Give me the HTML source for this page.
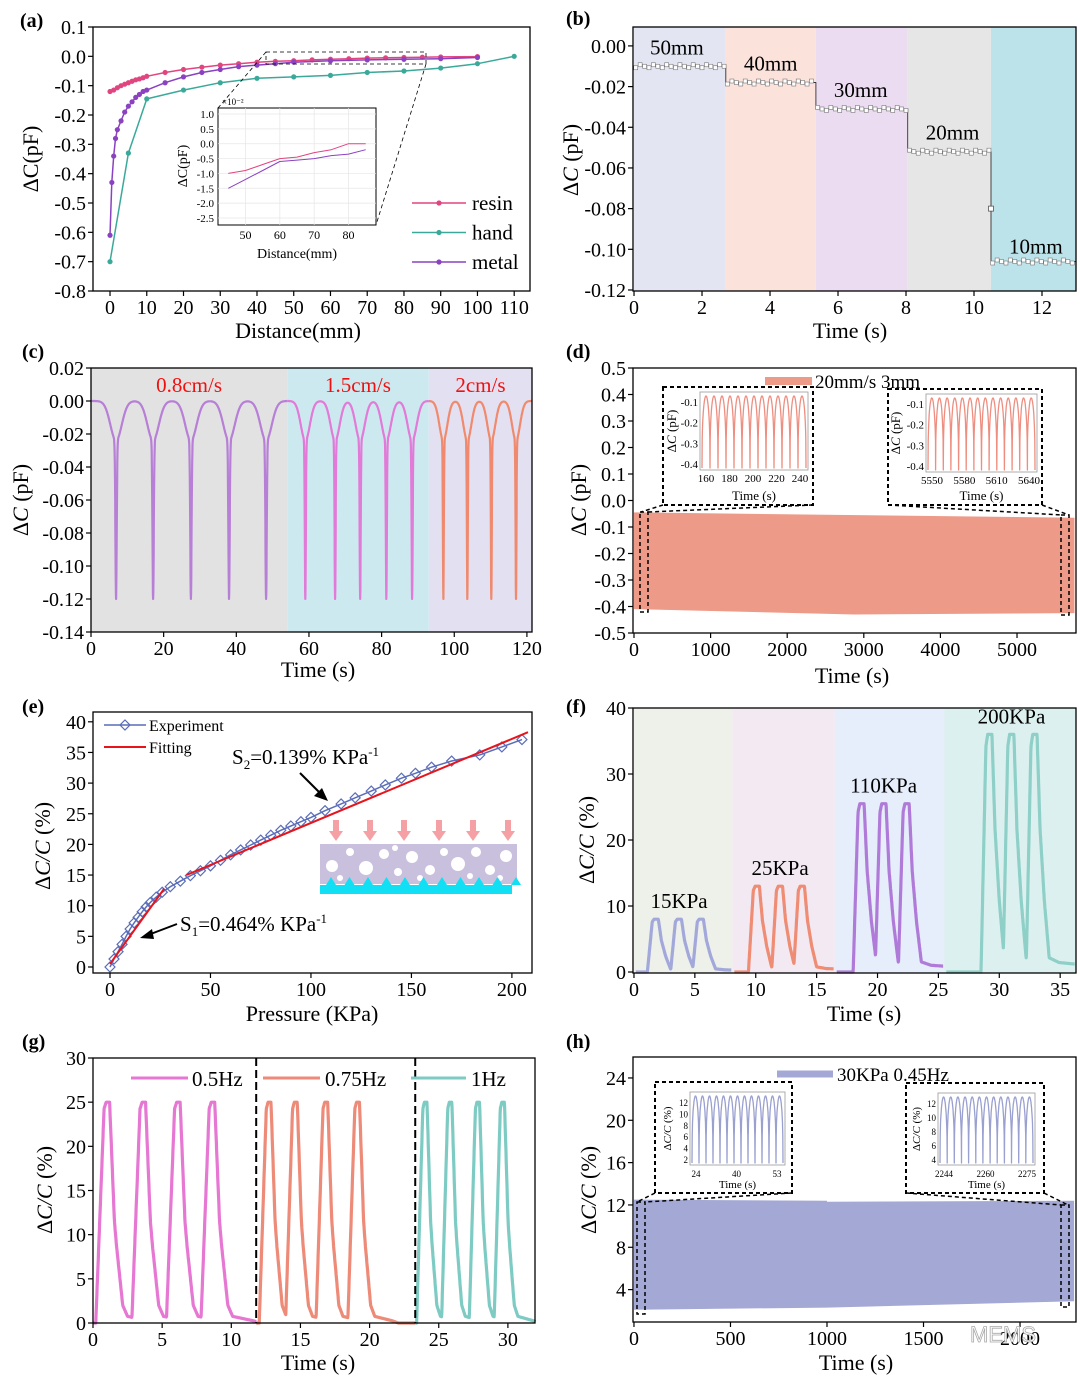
<!DOCTYPE html>
<html><head><meta charset="utf-8">
<style>
html,body{margin:0;padding:0;background:#fff;}
svg{display:block;font-family:"Liberation Serif",serif;}
</style></head>
<body>
<svg id="fig" width="1080" height="1379" viewBox="0 0 1080 1379" xmlns="http://www.w3.org/2000/svg"></svg>
<script>
// ---------- DATA ----------
// (a)
const aResinX=[0,1,2,3,4,5,6,7,8,9,10,15,20,25,30,35,40,45,50,55,60,65,70,75,80,85,90,100];
const aResinY=[-0.12,-0.115,-0.107,-0.1,-0.095,-0.09,-0.085,-0.08,-0.077,-0.073,-0.068,-0.055,-0.045,-0.037,-0.03,-0.025,-0.02,-0.017,-0.015,-0.012,-0.01,-0.008,-0.006,-0.005,-0.004,-0.003,-0.002,-0.001];
const aHandX=[0,5,10,20,30,40,50,60,70,80,90,100,110];
const aHandY=[-0.70,-0.33,-0.145,-0.115,-0.09,-0.075,-0.07,-0.065,-0.055,-0.05,-0.04,-0.025,0];
const aMetalX=[0,0.5,1,1.5,2,3,4,5,6,7,8,9,10,15,20,25,30,35,40,45,50,60,70,80,90,100];
const aMetalY=[-0.61,-0.43,-0.34,-0.28,-0.25,-0.22,-0.19,-0.17,-0.155,-0.14,-0.13,-0.12,-0.115,-0.09,-0.07,-0.055,-0.045,-0.035,-0.03,-0.025,-0.02,-0.015,-0.012,-0.01,-0.008,-0.004];
const aInsetX=[45,50,55,60,65,70,75,80,85];
const aInsetResin=[-1.0,-0.9,-0.7,-0.5,-0.45,-0.3,-0.2,0.0,0.0];
const aInsetMetal=[-1.5,-1.2,-0.9,-0.6,-0.55,-0.5,-0.4,-0.35,-0.2];
// (b)
const bLabels=["50mm","40mm","30mm","20mm","10mm"];
const bStarts=[0,2.7,5.35,8.05,10.5];
const bEnds=[2.7,5.35,8.05,10.5,13.0];
const bLevels=[-0.010,-0.018,-0.031,-0.052,-0.106];
// (c)
const cGroups=["0.8cm/s","1.5cm/s","2cm/s"];
const cGroupEnd=[54,93,122];
const cPeaks=[[6.9,17.1,27.5,38,48.2],[59,67.2,74.1,81.3,88.4],[97,103.6,110.2,117]];
const cDepth=[-0.12,-0.12,-0.12];
// (d)
const dTopStart=-0.045, dTopEnd=-0.065, dBotStart=-0.41, dBotEnd=-0.425, dEnd=5750;
// (e)
const eP=[0,2,4,6,8,10,12,14,16,18,20,23,26,30,35,40,45,50,55,60,65,70,75,80,85,90,95,100,107,115,122,130,137,145,152,160,170,184,195,205];
const eC=[0,1.3,2.5,3.7,5,6.2,7.2,8.1,9,9.8,10.5,11.4,12.2,13.1,14,14.9,15.7,16.5,17.4,18.3,19.1,19.9,20.7,21.5,22.3,23,23.7,24.4,25.5,26.6,27.6,28.7,29.7,30.8,31.6,32.6,33.6,34.6,35.9,37.1];
const eFit1P=[0,27], eFit1C=[0.5,12.8];
const eFit2P=[38,208], eFit2C=[15.0,38.3];
// (f)
const fLabels=["15KPa","25KPa","110KPa","200KPa"];
const fSegStart=[0,8.1,16.5,25.5];
const fSegEnd=[8.1,16.5,25.5,36.3];
const fPeaks=[[1.8,3.7,5.5],[10.1,12.0,13.8],[18.7,20.5,22.4],[29.2,31.0,32.9]];
const fAmp=[8,13,25.5,36];
// (g)
const gLabels=["0.5Hz","0.75Hz","1Hz"];
const gSegStart=[0,11.8,23.3];
const gSegEnd=[11.8,23.3,32];
const gPeaks=[[1.0,3.6,6.1,8.6],[12.7,14.6,16.8,19.1],[24,25.8,27.8,29.6]];
const gAmp=[25,25,25];
// (h)
const hTopStart=12.5, hTopEnd=12.4, hBotStart=2.1, hBotEnd=2.9, hEnd=2280;

// ---------- HELPERS ----------
const NS="http://www.w3.org/2000/svg";
const svg=document.getElementById('fig');
function E(tag,at,parent){const el=document.createElementNS(NS,tag);for(const k in at)el.setAttribute(k,at[k]);(parent||svg).appendChild(el);return el;}
function T(x,y,s,size,anchor,parent,extra){const el=E('text',Object.assign({x:x,y:y,'font-size':size,'text-anchor':anchor||'start',fill:'#000'},extra||{}),parent);el.textContent=s;return el;}
function scale(d0,d1,p0,p1){return v=>p0+(v-d0)*(p1-p0)/(d1-d0);}
function axes(c){
  const g=E('g',{});
  
  
  const sx=scale(c.xd[0],c.xd[1],c.L,c.R), sy=scale(c.yd[0],c.yd[1],c.B,c.T);
  c.sx=sx;c.sy=sy;c.g=g;
  c.bg=E('g',{},g);
  c.plot=E('g',{},g);
  const box=E('rect',{x:c.L,y:c.T,width:c.R-c.L,height:c.B-c.T,fill:'none',stroke:'#000','stroke-width':1.3},g);
  
  
  c.xt.forEach((v,i)=>{const x=sx(v);
    const t=E('line',{x1:x,x2:x,y1:c.B,y2:c.B+5,stroke:'#000','stroke-width':1.2},g);
    
    
    const lb=T(x,c.B+23,c.xl?c.xl[i]:String(v),c.fs||20,'middle',g);
    
    });
  c.yt.forEach((v,i)=>{const y=sy(v);
    const t=E('line',{x1:c.L-5,x2:c.L,y1:y,y2:y,stroke:'#000','stroke-width':1.2},g);
    
    
    const lb=T(c.L-7,y+7,c.yl?c.yl[i]:String(v),c.fs||20,'end',g);
    
    });
  return c;
}
function pl(pts,stroke,w,parent,extra){return E('polyline',Object.assign({points:pts.map(p=>p[0].toFixed(1)+','+p[1].toFixed(1)).join(' '),fill:'none',stroke:stroke,'stroke-width':w,'stroke-linejoin':'round'},extra||{}),parent);}
function ytitle(x,y,html,name){const t=E('text',{x:0,y:0,'font-size':22,'text-anchor':'middle',transform:`translate(${x},${y}) rotate(-90)`});t.innerHTML=html;return t;}
function xtitle(x,y,s,name){const t=T(x,y,s,22,'middle');return t;}
function plabel(x,y,s){const t=T(x,y,s,20,'start',svg,{'font-weight':'bold'});}
const PKG=[[-0.8,0],[-0.2,0.97],[-0.05,1],[0.2,1],[0.55,0.46],[0.7,0.35],[1.15,0.08],[1.5,0.03],[3,0.01],[3.5,0]];
const PKF=[[-0.7,0],[-0.3,0.95],[-0.15,1],[0.2,1],[0.45,0.6],[0.8,0.3],[1.2,0.06],[2,0.04],[6,0.02],[7,0]];
function pshape(PK,u,w){u=u/w;if(u<=PK[0][0]||u>=PK[PK.length-1][0])return 0;for(let i=1;i<PK.length;i++){if(u<=PK[i][0]){const a=PK[i-1],b=PK[i];return a[1]+(b[1]-a[1])*(u-a[0])/(b[0]-a[0]);}}return 0;}

// ---------- (a) ----------
plabel(20,27,'(a)');
const A=axes({name:'panel-a',L:93,R:530,T:27,B:291,xd:[-4.63,114.3],yd:[-0.8,0.1],xt:[0,10,20,30,40,50,60,70,80,90,100,110],yt:[0.1,0,-0.1,-0.2,-0.3,-0.4,-0.5,-0.6,-0.7,-0.8],yl:['0.1','0.0','-0.1','-0.2','-0.3','-0.4','-0.5','-0.6','-0.7','-0.8']});
ytitle(38,159,'ΔC(pF)','y-axis-title-a');
xtitle(298,338,'Distance(mm)','x-axis-title-a');
[[aResinX,aResinY,'#e0457f','resin'],[aHandX,aHandY,'#3aa99a','hand'],[aMetalX,aMetalY,'#8a42c0','metal']].forEach(([xs,ys,col,nm],k)=>{
  const s=pl(xs.map((x,i)=>[A.sx(x),A.sy(ys[i])]),col,1.5,A.plot);
  
  
  xs.forEach((x,i)=>{const c=E('circle',{cx:A.sx(x),cy:A.sy(ys[i]),r:2.6,fill:col},A.plot);
    
    });
  const ly=203+k*29.5;
  const ll=E('line',{x1:412,x2:466,y1:ly,y2:ly,stroke:col,'stroke-width':1.5});
  
  
  E('circle',{cx:439,cy:ly,r:2.6,fill:col});
  const lt=T(472,ly+7,nm,21);
  
  
});
const zr=E('rect',{x:266,y:52,width:160,height:12,fill:'none',stroke:'#000','stroke-dasharray':'4,3','stroke-width':0.8});


E('line',{x1:266,y1:52,x2:218,y2:108,stroke:'#000','stroke-dasharray':'4,3','stroke-width':0.8});
E('line',{x1:426,y1:64,x2:376,y2:225,stroke:'#000','stroke-dasharray':'4,3','stroke-width':0.8});
const AI={L:218,R:376,T:108,B:225};
const aix=scale(42,88,AI.L,AI.R), aiy=scale(-2.5,1.0,218,114);
const ai=E('g',{});


E('rect',{x:AI.L,y:AI.T,width:AI.R-AI.L,height:AI.B-AI.T,fill:'#fff',stroke:'#000','stroke-width':1},ai);
[1.0,0.5,0.0,-0.5,-1.0,-1.5,-2.0,-2.5].forEach(v=>{E('line',{x1:AI.L,x2:AI.R,y1:aiy(v),y2:aiy(v),stroke:'#e6e6e6','stroke-width':0.7},ai);T(AI.L-4,aiy(v)+4,v.toFixed(1),11,'end',ai);});
[50,60,70,80].forEach(v=>{E('line',{x1:aix(v),x2:aix(v),y1:AI.T,y2:AI.B,stroke:'#e6e6e6','stroke-width':0.7},ai);T(aix(v),AI.B+14,String(v),12,'middle',ai);});
T(AI.L+4,AI.T-3,'×10⁻²',9,'start',ai);
pl(aInsetX.map((x,i)=>[aix(x),aiy(aInsetResin[i])]),'#e0457f',1,ai);
pl(aInsetX.map((x,i)=>[aix(x),aiy(aInsetMetal[i])]),'#8a42c0',1,ai);
T(297,258,'Distance(mm)',14,'middle',ai);
const ait=E('text',{x:0,y:0,'font-size':14,'text-anchor':'middle',transform:'translate(187,166) rotate(-90)'},ai);ait.textContent='ΔC(pF)';

// ---------- (b) ----------
plabel(566,25,'(b)');
const B=axes({name:'panel-b',L:633,R:1076,T:27,B:291,xd:[-0.03,13.0],yd:[-0.1205,0.0093],xt:[0,2,4,6,8,10,12],yt:[0,-0.02,-0.04,-0.06,-0.08,-0.10,-0.12],yl:['0.00','-0.02','-0.04','-0.06','-0.08','-0.10','-0.12']});
ytitle(578,160,'Δ<tspan font-style="italic">C</tspan> (pF)','y-axis-title-b');
xtitle(850,338,'Time (s)','x-axis-title-b');
const bCols=['#e3e6f2','#fbe2da','#ecdcf2','#e6e6e6','#bce3ea'];
bStarts.forEach((s,i)=>{
  const r=E('rect',{x:B.sx(s),y:B.T,width:B.sx(bEnds[i])-B.sx(s),height:B.B-B.T,fill:bCols[i]},B.bg);
  
  
  const lb=T(B.sx(s)+(i==0?16:18),B.sy(bLevels[i])-(i==4?8:12),bLabels[i],21,'start',B.plot);
  
  
});
{const pts=[];bStarts.forEach((s,i)=>{pts.push([B.sx(s),B.sy(bLevels[i])]);pts.push([B.sx(bEnds[i]),B.sy(bLevels[i])]);});
 const l=pl(pts,'#333',0.9,B.plot);
 
 
 bStarts.forEach((s,i)=>{for(let t=s+0.05;t<bEnds[i]-0.05;t+=0.13){const y=B.sy(bLevels[i])+((Math.round(t*100)%3)-1)*1.5;E('rect',{x:B.sx(t)-2,y:y-2,width:4,height:4,fill:'#fff',stroke:'#777','stroke-width':0.6},B.plot);}});
 E('rect',{x:B.sx(10.5)-2.5,y:B.sy(-0.080)-2.5,width:5,height:5,fill:'#fff',stroke:'#555','stroke-width':0.8},B.plot);}

// ---------- (c) ----------
plabel(22,358,'(c)');
const C=axes({name:'panel-c',L:91,R:532,T:368,B:632,xd:[0,121.4],yd:[-0.14,0.02],xt:[0,20,40,60,80,100,120],yt:[0.02,0,-0.02,-0.04,-0.06,-0.08,-0.10,-0.12,-0.14],yl:['0.02','0.00','-0.02','-0.04','-0.06','-0.08','-0.10','-0.12','-0.14']});
ytitle(28,500,'Δ<tspan font-style="italic">C</tspan> (pF)','y-axis-title-c');
xtitle(318,677,'Time (s)','x-axis-title-c');
const cBg=['#e2e2e2','#cde9f0','#e3e1f1'];const cCol=['#b77fd6','#e27ad8','#f08a6e'];
cGroups.forEach((g,k)=>{
  const s=k==0?0:cGroupEnd[k-1];
  const r=E('rect',{x:C.sx(s),y:C.T,width:Math.min(C.R,C.sx(cGroupEnd[k]))-C.sx(s),height:C.B-C.T,fill:cBg[k]},C.bg);
  
  
  const lb=T((C.sx(s)+Math.min(C.R,C.sx(cGroupEnd[k])))/2,392,g,21,'middle',C.plot,{fill:'#f01010'});
  
  
  const pts=[];const w=[1,0.8,0.7][k];
  for(let t=s;t<=Math.min(cGroupEnd[k],121.4);t+=0.05){let v=0;cPeaks[k].forEach(p=>{const u=(t-p)/w;v+=cDepth[k]*(0.2*Math.exp(-((u/2.2)**2))+0.8*Math.exp(-((u/0.25)**2)));});pts.push([C.sx(t),C.sy(v)]);}
  const l=pl(pts,cCol[k],2.2,C.plot);
  
  
});

// ---------- (d) ----------
plabel(566,358,'(d)');
const D=axes({name:'panel-d',L:633,R:1076,T:368,B:633,xd:[-13,5770],yd:[-0.5,0.5],xt:[0,1000,2000,3000,4000,5000],yt:[0.5,0.4,0.3,0.2,0.1,0,-0.1,-0.2,-0.3,-0.4,-0.5],yl:['0.5','0.4','0.3','0.2','0.1','0.0','-0.1','-0.2','-0.3','-0.4','-0.5']});
ytitle(586,500,'Δ<tspan font-style="italic">C</tspan> (pF)','y-axis-title-d');
xtitle(852,683,'Time (s)','x-axis-title-d');
{const x0=D.sx(0),x1=D.sx(dEnd);
 const b=E('polygon',{points:`${x0},${D.sy(dTopStart)} ${x1},${D.sy(dTopEnd)} ${x1},${D.sy(dBotEnd)} ${(x0+x1)/2},${D.sy(dBotStart-0.02)} ${x0},${D.sy(dBotStart)}`,fill:'#ee9a88'},D.plot);
 
 }
{const l=E('line',{x1:765,x2:812,y1:381,y2:381,stroke:'#ee9a88','stroke-width':8});
 
 
 const t=T(815,388,'20mm/s 3mm',19);
 
 }
function osc(parent,L,R,T0,B0,n,col,lw){const pts=[];for(let i=0;i<=n*40;i++){const f=i/(n*40);const ph=(f*n)%1;const v=Math.pow(Math.abs(Math.sin(Math.PI*ph)),0.35);pts.push([L+f*(R-L),B0-(B0-T0)*v]);}return pl(pts,col,lw,parent);}
function dInset(bx,by,bw,bh,pL,pR,pT,pB,xl,yl,ylab,ylabx,n,col,fs){
  const g=E('g',{});
  
  
  E('rect',{x:bx,y:by,width:bw,height:bh,fill:'#fff',stroke:'#000','stroke-width':2,'stroke-dasharray':'4,3'},g);
  E('rect',{x:pL,y:pT,width:pR-pL,height:pB-pT,fill:'none',stroke:'#999','stroke-width':0.8},g);
  osc(g,pL+2,pR-2,pT+4,pB-2,n,col,1.3);
  xl.forEach((s,i)=>T(pL+6+i*(pR-pL-14)/(xl.length-1),pB+12,s,fs,'middle',g));
  yl.forEach((s,i)=>T(pL-2,pT+14+i*(pB-pT-16)/(yl.length-1),s,fs,'end',g));
  T((pL+pR)/2,by+bh-5,'Time (s)',fs+2,'middle',g);
  const yt=E('text',{x:0,y:0,'font-size':fs+2,'text-anchor':'middle',transform:`translate(${ylabx},${(pT+pB)/2}) rotate(-90)`},g);yt.innerHTML=ylab;
  return g;}
dInset(663,387,150,118,700,808,392,470,['160','180','200','220','240'],['-0.1','-0.2','-0.3','-0.4'],'Δ<tspan font-style="italic">C</tspan> (pF)',676,13,'#ee8e80',11);
dInset(888,389,154,116,926,1037,394,472,['5550','5580','5610','5640'],['-0.1','-0.2','-0.3','-0.4'],'Δ<tspan font-style="italic">C</tspan> (pF)',900,14,'#ee8e80',11);
[[663,505,641,512],[813,505,648,512],[888,505,1062,515],[1042,505,1069,515]].forEach(a=>E('line',{x1:a[0],y1:a[1],x2:a[2],y2:a[3],stroke:'#000','stroke-width':1.5,'stroke-dasharray':'4,3'}));
E('rect',{x:640,y:512,width:8,height:100,fill:'none',stroke:'#000','stroke-width':1.5,'stroke-dasharray':'4,3'});
E('rect',{x:1061,y:515,width:8,height:100,fill:'none',stroke:'#000','stroke-width':1.5,'stroke-dasharray':'4,3'});

// ---------- (e) ----------
plabel(22,713,'(e)');
const Ep=axes({name:'panel-e',L:93,R:532,T:712,B:973,xd:[-8.46,210],yd:[-0.98,41.6],xt:[0,50,100,150,200],yt:[40,35,30,25,20,15,10,5,0]});
ytitle(50,846,'Δ<tspan font-style="italic">C/C</tspan> (%)','y-axis-title-e');
xtitle(312,1021,'Pressure (KPa)','x-axis-title-e');
{const l=pl(eP.map((p,i)=>[Ep.sx(p),Ep.sy(eC[i])]),'#5a6db8',1.5,Ep.plot);
 
 
 eP.forEach((p,i)=>{const x=Ep.sx(p),y=Ep.sy(eC[i]);const d=E('polygon',{points:`${x},${y-5} ${x+5},${y} ${x},${y+5} ${x-5},${y}`,fill:'none',stroke:'#5a6db8','stroke-width':1.2},Ep.plot);
   
   });
 const f1=pl(eFit1P.map((p,i)=>[Ep.sx(p),Ep.sy(eFit1C[i])]),'#e8141c',2,Ep.plot);
 
 
 const f2=pl(eFit2P.map((p,i)=>[Ep.sx(p),Ep.sy(eFit2C[i])]),'#e8141c',2,Ep.plot);
 
 }
{E('line',{x1:104,x2:146,y1:725,y2:725,stroke:'#5a6db8','stroke-width':1.5});
 E('polygon',{points:'125,720 130,725 125,730 120,725',fill:'none',stroke:'#5a6db8','stroke-width':1.2});
 const t1=T(149,731,'Experiment',16);
 
 
 E('line',{x1:104,x2:146,y1:747,y2:747,stroke:'#e8141c','stroke-width':2});
 const t2=T(149,753,'Fitting',16);
 
 }
{const a1=T(232,764,'',21);a1.innerHTML='S<tspan font-size="13" dy="5">2</tspan><tspan dy="-5">=0.139% KPa</tspan><tspan font-size="13" dy="-8">-1</tspan>';
 
 
 E('line',{x1:300,y1:773,x2:322,y2:795,stroke:'#000','stroke-width':2});
 E('polygon',{points:'328,801 314,796 322,788',fill:'#000'});
 const a2=T(180,931,'',21);a2.innerHTML='S<tspan font-size="13" dy="5">1</tspan><tspan dy="-5">=0.464% KPa</tspan><tspan font-size="13" dy="-8">-1</tspan>';
 
 
 E('line',{x1:177,y1:924,x2:148,y2:935,stroke:'#000','stroke-width':2});
 E('polygon',{points:'140,938 152,929 154,939',fill:'#000'});}
{const g=E('g',{});
 
 
 [336,370,404,439,473,508].forEach(x=>{E('rect',{x:x-3,y:820,width:6,height:12,fill:'#f4a0a4'},g);E('polygon',{points:`${x-7},831 ${x+7},831 ${x},841`,fill:'#f4a0a4'},g);});
 E('rect',{x:320,y:844,width:197,height:40,fill:'#c9c0dd'},g);
 const circ=[[332,866,6],[350,852,4],[366,868,7],[384,854,5],[398,872,4],[412,857,6],[430,870,5],[444,852,4],[458,864,7],[476,852,5],[490,870,5],[506,856,6],[340,878,3],[420,878,3],[470,876,3],[500,878,3],[395,848,3]];
 circ.forEach(c=>E('circle',{cx:c[0],cy:c[1],r:c[2],fill:'#fff'},g));
 E('rect',{x:320,y:885,width:192,height:9,fill:'#11e0f4'},g);
 for(let x=326;x<512;x+=18.5)E('polygon',{points:`${x},885 ${x+5},877 ${x+10},885`,fill:'#11e0f4'},g);}

// ---------- (f) ----------
plabel(566,713,'(f)');
const F=axes({name:'panel-f',L:633,R:1076,T:708,B:973,xd:[-0.08,36.3],yd:[-0.15,40],xt:[0,5,10,15,20,25,30,35],yt:[40,30,20,10,0]});
ytitle(594,840,'Δ<tspan font-style="italic">C/C</tspan> (%)','y-axis-title-f');
xtitle(864,1021,'Time (s)','x-axis-title-f');
const fBg=['#eef0ea','#f3e9f3','#e6edfb','#dcf1ef'];const fCol=['#a3a8da','#ef8c74','#b07bd8','#8ecfc8'];
fLabels.forEach((nm,k)=>{
  const r=E('rect',{x:F.sx(fSegStart[k]),y:F.T,width:F.sx(fSegEnd[k])-F.sx(fSegStart[k]),height:F.B-F.T,fill:fBg[k]},F.bg);
  
  
  const pts=[];
  for(let t=fSegStart[k]+0.15;t<=fSegEnd[k]-0.1;t+=0.02){let v=0;fPeaks[k].forEach(p=>{v=Math.max(v,fAmp[k]*pshape(PKF,t-p,1));});pts.push([F.sx(t),F.sy(v)]);}
  const l=pl(pts,fCol[k],3.2,F.plot);
  
  
  const lb=T(F.sx(fPeaks[k][1]),F.sy(fAmp[k])-11,nm,21,'middle',F.plot);
  
  
});

// ---------- (g) ----------
plabel(22,1048,'(g)');
const G=axes({name:'panel-g',L:93,R:535,T:1058,B:1323,xd:[0,31.96],yd:[0,30],xt:[0,5,10,15,20,25,30],yt:[30,25,20,15,10,5,0]});
ytitle(52,1190,'Δ<tspan font-style="italic">C/C</tspan> (%)','y-axis-title-g');
xtitle(318,1370,'Time (s)','x-axis-title-g');
const gCol=['#e677d2','#ee8a78','#7ecbc4'];
gLabels.forEach((nm,k)=>{
  const pts=[];const w=[1,0.85,0.75][k];
  for(let t=gSegStart[k];t<=gSegEnd[k];t+=0.02){let v=0;gPeaks[k].forEach(p=>{v=Math.max(v,gAmp[k]*pshape(PKG,t-p,w));});pts.push([G.sx(t),G.sy(v)]);}
  const l=pl(pts,gCol[k],3.2,G.plot);
  
  
  if(k>0){const d=E('line',{x1:G.sx(gSegStart[k]),x2:G.sx(gSegStart[k]),y1:G.T,y2:G.B,stroke:'#000','stroke-width':2,'stroke-dasharray':'8,4'},G.plot);
    
    }
});
[[131,188,192,'0.5Hz'],[263,320,325,'0.75Hz'],[411,466,471,'1Hz']].forEach((a,k)=>{
  const l=E('line',{x1:a[0],x2:a[1],y1:1078,y2:1078,stroke:gCol[k],'stroke-width':3});
  
  
  const t=T(a[2],1086,a[3],21);
  
  });

// ---------- (h) ----------
plabel(566,1048,'(h)');
const H=axes({name:'panel-h',L:633,R:1076,T:1057,B:1322,xd:[-5,2290],yd:[0.94,25.98],xt:[0,500,1000,1500,2000],yt:[24,20,16,12,8,4]});
ytitle(596,1190,'Δ<tspan font-style="italic">C/C</tspan> (%)','y-axis-title-h');
xtitle(856,1370,'Time (s)','x-axis-title-h');
{const x0=H.sx(0),x1=H.sx(hEnd),xm=H.sx(1000);
 const b=E('polygon',{points:`${x0},${H.sy(hTopStart)} ${xm},${H.sy(hTopStart-0.1)} ${xm},${H.sy(hTopEnd-0.1)} ${x1},${H.sy(hTopEnd)} ${x1},${H.sy(hBotEnd)} ${xm},${H.sy(2.3)} ${x0},${H.sy(hBotStart)}`,fill:'#a3a8d4'},H.plot);
 
 }
{const l=E('line',{x1:777,x2:833,y1:1074,y2:1074,stroke:'#a3a8d4','stroke-width':7});
 
 
 const t=T(837,1081,'30KPa  0.45Hz',19);
 
 }
dInset(655,1082,137,111,690,785,1092,1165,['24','40','53'],['12','10','8','6','4','2'],'Δ<tspan font-style="italic">C/C</tspan> (%)',671,13,'#9aa0d0',9);
dInset(906,1083,138,110,938,1035,1093,1165,['2244','2260','2275'],['12','10','8','6','4'],'Δ<tspan font-style="italic">C/C</tspan> (%)',920,13,'#9aa0d0',9);
[[655,1193,637,1202],[792,1193,645,1202],[906,1193,1061,1205],[1044,1193,1068,1205]].forEach(a=>E('line',{x1:a[0],y1:a[1],x2:a[2],y2:a[3],stroke:'#000','stroke-width':1.5,'stroke-dasharray':'4,3'}));
E('rect',{x:637,y:1202,width:8,height:112,fill:'none',stroke:'#000','stroke-width':1.5,'stroke-dasharray':'4,3'});
E('rect',{x:1061,y:1205,width:8,height:102,fill:'none',stroke:'#000','stroke-width':1.5,'stroke-dasharray':'4,3'});
{const w=T(970,1342,'MEMS',22,'start',svg,{fill:'#ffffff',stroke:'#aaa','stroke-width':0.8,'font-family':'Liberation Sans, sans-serif'});
 
 }
</script>
</body></html>
